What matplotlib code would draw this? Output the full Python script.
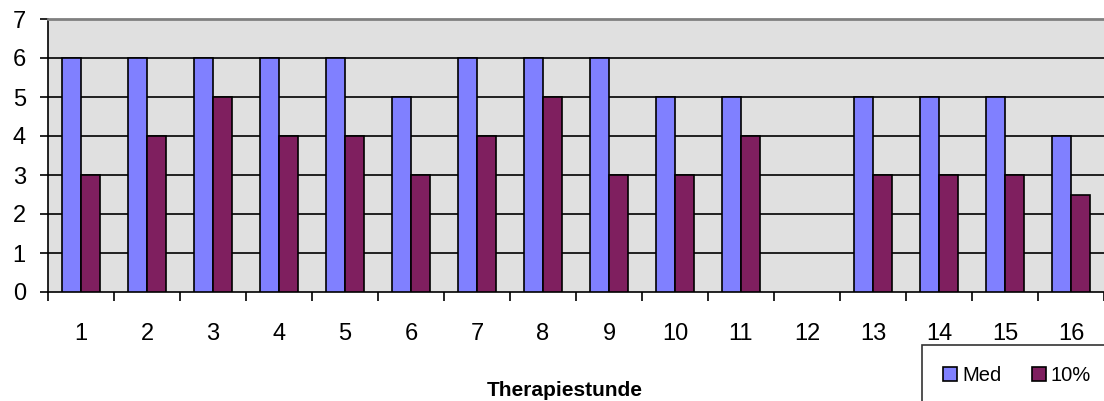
import numpy as np
import matplotlib.pyplot as plt

plt.rcParams['font.family'] = ['Liberation Sans', 'DejaVu Sans']

stunden = [str(i) for i in range(1, 17)]
med = [6, 6, 6, 6, 6, 5, 6, 6, 6, 5, 5, np.nan, 5, 5, 5, 4]
zehn = [3, 4, 5, 4, 4, 3, 4, 5, 3, 3, 4, np.nan, 3, 3, 3, 2.5]

fig = plt.figure(figsize=(11.04, 4.01), dpi=100)
ax = fig.add_axes([48/1104, 109/401, 1 - 48/1104, 273/401])
ax.set_facecolor('#e0e0e0')

x = np.arange(len(stunden))
w = 0.29
ax.bar(x - w/2, med, width=w, color='#8080ff', edgecolor='black', linewidth=1.2, label='Med', zorder=3)
ax.bar(x + w/2, zehn, width=w, color='#7f1f5f', edgecolor='black', linewidth=1.2, label='10%', zorder=3)

ax.set_xlim(-0.5, len(stunden) - 0.5)
ax.set_ylim(0, 7)
ax.set_yticks(range(0, 8))
for y in range(1, 7):
    ax.axhline(y, color='black', linewidth=1.2, zorder=1)

# Kategoriegrenzen als Ticks, Beschriftung mittig
ax.set_xticks(np.arange(-0.5, len(stunden), 1.0))
ax.set_xticklabels([])
ax.set_xticks(x, minor=True)
ax.set_xticklabels(stunden, minor=True)
ax.tick_params(axis='x', which='major', direction='out', length=6.5, width=1.2, color='black')
ax.tick_params(axis='x', which='minor', length=0, pad=22, labelsize=17)
ax.tick_params(axis='y', direction='out', length=6, width=1.2, labelsize=17, pad=10)

ax.spines['right'].set_visible(False)
ax.spines['top'].set_color('#808080')
ax.spines['top'].set_linewidth(2)
ax.spines['left'].set_linewidth(1.2)
ax.spines['bottom'].set_linewidth(1.2)

fig.text(0.512, 11/401, 'Therapiestunde', ha='center', va='center',
         fontsize=15, fontweight='bold')

leg = fig.legend(loc='upper left', bbox_to_anchor=(922/1104, 1 - 345/401), ncol=2, fontsize=14.5,
                 frameon=True, fancybox=False, edgecolor='black', handlelength=0.7,
                 handleheight=0.7, handletextpad=0.25, columnspacing=1.5, borderpad=1.05,
                 borderaxespad=0)
leg.get_frame().set_linewidth(1.2)

fig.savefig('out.png', dpi=100)
